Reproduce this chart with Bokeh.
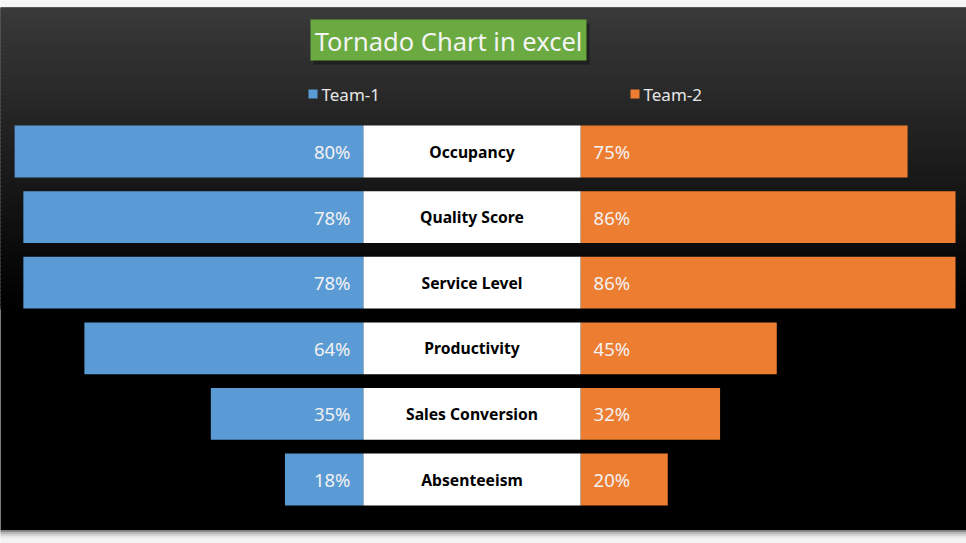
import numpy as np
from bokeh.plotting import figure
from bokeh.models import ColumnDataSource, Range1d
from bokeh.core.properties import value
from bokeh.embed import file_html
from bokeh.resources import INLINE

# ---- data ----
categories = ["Occupancy", "Quality Score", "Service Level", "Productivity", "Sales Conversion", "Absenteeism"]
team1 = [80, 78, 78, 64, 35, 18]
team2 = [75, 86, 86, 45, 32, 20]
series_names = ["Team-1", "Team-2"]
title_text = "Tornado Chart in excel"

# ---- layout constants ----
FW, FH = 966, 543
S = 4.36          # px per percentage point
CX = 471.5        # px of chart centre
RY0, RS = 151.0, 65.6   # first row centre px, row spacing px
GAP = 49.8        # width of the label band, in percentage units
BAR_H = 0.79

def fx(px):
    return (px - CX) / S

def fy(py):
    return (py - RY0) / RS

BLUE = "#5b9bd5"
ORANGE = "#ed7d31"

p = figure(width=FW, height=FH, output_backend="svg", toolbar_location=None,
           x_range=Range1d(-CX / S, (FW - CX) / S),
           y_range=Range1d((FH - RY0) / RS, -RY0 / RS),
           min_border=0, background_fill_color="#f4f4f4", border_fill_color="#f4f4f4",
           outline_line_color=None)
p.axis.visible = False
p.grid.visible = False

# ---- background gradient (dark chart area) ----
p.quad(left=fx(-5), right=fx(975), top=fy(7), bottom=fy(530), fill_color="black", line_color=None)
n = 75
edges_px = np.linspace(7, 307, n + 1)
tops = fy(edges_px[:-1])
bots = fy(edges_px[1:] + 2.0)   # overlap to hide seams
mids_px = (edges_px[:-1] + edges_px[1:]) / 2
shade = np.clip(58 * (1 - (mids_px - 7) / 300.0), 0, 60).astype(int)
cols = ["#%02x%02x%02x" % (c, c, c) for c in shade]
p.quad(left=fx(-5), right=fx(975), top=tops, bottom=bots, fill_color=cols, line_color=None)
# bottom shadow
sh_px = np.array([530, 532, 534, 536, 538])
sh_cols = ["#8a8a8a", "#b5b5b5", "#d6d6d6", "#e9e9e9"]
p.quad(left=fx(-5), right=fx(975), top=fy(sh_px[:-1]), bottom=fy(sh_px[1:]), fill_color=sh_cols, line_color=None)

# ---- bars ----
rows = np.arange(len(categories))
src = ColumnDataSource(dict(
    y=rows,
    cat=categories,
    l1=[-GAP / 2 - v for v in team1],
    r1=[-GAP / 2] * len(team1),
    l2=[GAP / 2] * len(team2),
    r2=[GAP / 2 + v for v in team2],
    t1=["%d%%" % v for v in team1],
    t2=["%d%%" % v for v in team2],
    cx=[0.0] * len(categories),
    x1=[-GAP / 2] * len(team1),
    x2=[GAP / 2] * len(team2),
    bl=[-GAP / 2] * len(team1),
    br=[GAP / 2] * len(team1),
))

p.hbar(y="y", left="l1", right="r1", height=BAR_H, source=src, fill_color=BLUE, line_color=None)
p.hbar(y="y", left="l2", right="r2", height=BAR_H, source=src, fill_color=ORANGE, line_color=None)
p.hbar(y="y", left="bl", right="br", height=BAR_H, source=src, fill_color="white", line_color=None)

p.text(x="x1", y="y", text="t1", source=src, x_offset=-13, text_align="right", text_baseline="middle",
       text_color="#f2f2f2", text_font=value("Noto Sans"), text_font_size="18.5px")
p.text(x="x2", y="y", text="t2", source=src, x_offset=13, text_align="left", text_baseline="middle",
       text_color="#f2f2f2", text_font=value("Noto Sans"), text_font_size="18.5px")
p.text(x="cx", y="y", text="cat", source=src, text_align="center", text_baseline="middle",
       text_color="black", text_font=value("Noto Sans"), text_font_style="bold", text_font_size="15.7px")

# ---- title box ----
p.quad(left=fx(313), right=fx(589), top=fy(23), bottom=fy(64), fill_color="#111111", fill_alpha=0.5, line_color=None)
p.quad(left=fx(310), right=fx(586), top=fy(19), bottom=fy(60), fill_color="#6aaa40", line_color=None)
p.text(x=[fx(448)], y=[fy(40)], text=[title_text], text_align="center", text_baseline="middle",
       text_color="#f4f4f4", text_font=value("Noto Sans"), text_font_size="25.5px")

# ---- legend ----
p.quad(left=[fx(308), fx(630)], right=[fx(317), fx(639)], top=[fy(89)] * 2, bottom=[fy(98)] * 2,
       fill_color=[BLUE, ORANGE], line_color=None)
p.text(x=[fx(321), fx(643)], y=[fy(93.5)] * 2, text=series_names, text_align="left", text_baseline="middle",
       text_color="#e6e6e6", text_font=value("Noto Sans"), text_font_size="17px")

open("out.html", "w").write(file_html(p, INLINE))
